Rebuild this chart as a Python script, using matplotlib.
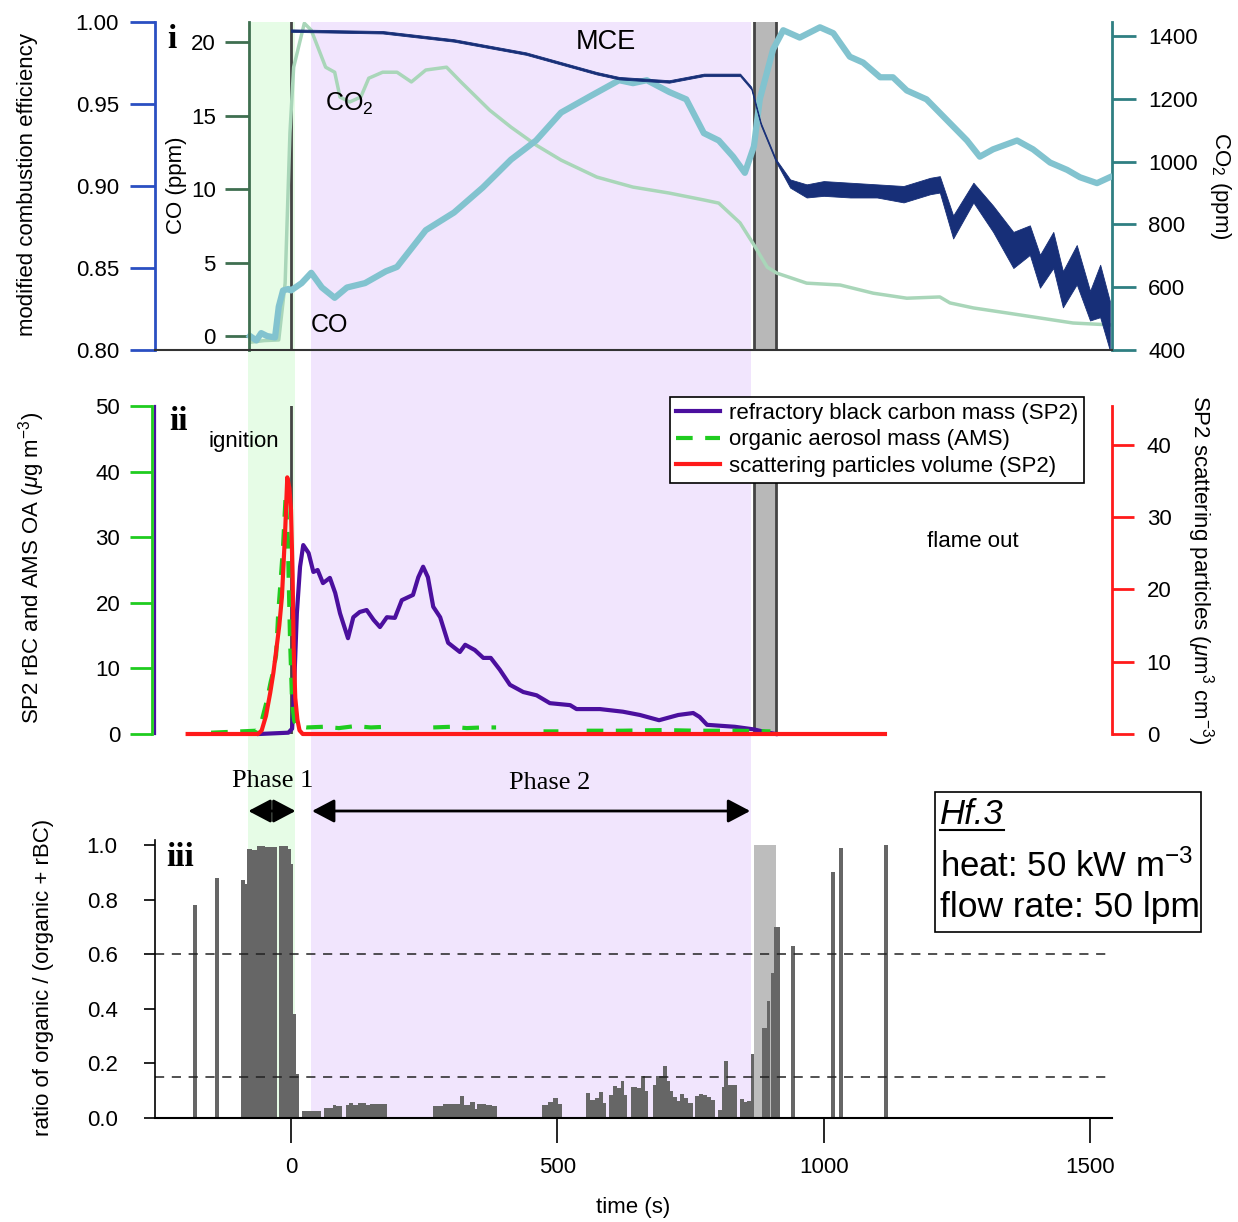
import matplotlib
matplotlib.use('Agg')
import matplotlib.pyplot as plt
import numpy as np
from matplotlib.lines import Line2D
from matplotlib.patches import Rectangle

plt.rcParams['font.family'] = ['Liberation Sans', 'DejaVu Sans']
plt.rcParams['mathtext.fontset'] = 'custom'
plt.rcParams['mathtext.rm'] = 'Liberation Sans'
plt.rcParams['mathtext.it'] = 'Liberation Sans:italic'

# ---- time windows (s) ----
phase1 = (-81, 7.5)
phase2 = (37.5, 864)
flame_out = (869, 910)

# ---- panel i : MCE, CO, CO2 ----
mce_t = [0, 172, 306, 441, 574, 616, 710, 775, 843, 864, 882, 910, 937, 968, 1000, 1050, 1100,
         1150, 1200, 1218, 1243, 1281, 1318, 1356, 1387, 1406, 1431, 1449, 1475, 1500, 1519, 1537]
mce_hi = [0.9955, 0.9945, 0.9895, 0.9815, 0.9695, 0.9665, 0.9645, 0.9685, 0.9685, 0.9605, 0.9385,
          0.9165, 0.904, 0.901, 0.903, 0.902, 0.901, 0.900, 0.905, 0.906, 0.882, 0.902, 0.888,
          0.872, 0.876, 0.858, 0.872, 0.848, 0.864, 0.836, 0.852, 0.830]
mce_lo = [0.994, 0.993, 0.988, 0.980, 0.968, 0.965, 0.963, 0.967, 0.967, 0.959, 0.937, 0.915, 0.899,
          0.893, 0.894, 0.893, 0.893, 0.890, 0.895, 0.896, 0.868, 0.890, 0.872, 0.850, 0.858, 0.838,
          0.850, 0.826, 0.840, 0.818, 0.820, 0.800]

co_t = [-77, -65, -56, -45, -30, -23, -15, -5, 0, 20, 38, 58, 82, 105, 139, 178, 199, 253, 306, 360,
        413, 460, 507, 561, 616, 642, 668, 710, 742, 775, 803, 830, 852, 869, 880, 905, 924, 955, 993,
        1018, 1049, 1074, 1106, 1130, 1156, 1193, 1231, 1269, 1293, 1318, 1363, 1393, 1425, 1457,
        1481, 1513, 1537]
co_ppm = [0.0, -0.3, 0.2, 0.0, -0.1, 2.0, 3.1, 3.2, 3.1, 3.6, 4.3, 3.3, 2.6, 3.3, 3.6, 4.4, 4.7, 7.2,
          8.4, 10.1, 12.0, 13.3, 15.2, 16.3, 17.4, 17.2, 17.4, 16.6, 16.1, 13.8, 13.3, 12.2, 11.1,
          12.9, 16.1, 19.5, 20.8, 20.3, 21.0, 20.6, 19.0, 18.6, 17.6, 17.6, 16.7, 16.1, 14.7, 13.3,
          12.2, 12.7, 13.3, 12.7, 11.8, 11.3, 10.8, 10.4, 10.8]

co2_t = [-75, -50, -23, -11, -2, 5, 25, 38, 65, 82, 92, 110, 131, 146, 172, 199, 226, 253, 292, 319,
         373, 413, 460, 507, 574, 642, 710, 775, 803, 843, 869, 894, 912, 968, 1031, 1093, 1156, 1218,
         1237, 1281, 1344, 1406, 1468, 1537]
co2_ppm = [425, 430, 432, 613, 1091, 1301, 1441, 1419, 1301, 1285, 1206, 1190, 1206, 1266, 1285,
           1285, 1254, 1292, 1301, 1254, 1164, 1110, 1053, 1005, 951, 919, 900, 878, 868, 805, 735,
           664, 645, 613, 607, 581, 565, 569, 550, 534, 518, 502, 486, 480]

# ---- panel ii : aerosol mass ----
rbc_t = [-60, -5, 2, 4, 11, 17, 23, 33, 42, 50, 60, 73, 83, 92, 107, 117, 129, 142, 155, 167, 180,
         195, 208, 229, 239, 248, 257, 267, 280, 295, 317, 327, 345, 361, 375, 392, 411, 436, 461,
         486, 524, 536, 580, 623, 655, 691, 727, 755, 767, 781, 833, 869, 890, 910]
rbc = [0.0, 0.2, 0.8, 3.2, 18.4, 25.5, 28.8, 27.6, 24.7, 25.0, 23.0, 23.8, 21.5, 18.4, 14.6, 17.8,
       18.6, 18.9, 17.4, 16.3, 17.8, 17.7, 20.4, 21.2, 23.9, 25.5, 23.9, 19.4, 17.8, 13.9, 12.5, 13.6,
       12.8, 11.6, 11.6, 9.8, 7.5, 6.4, 5.9, 4.7, 4.4, 3.8, 3.8, 3.4, 2.9, 2.1, 2.9, 3.2, 2.6, 1.4,
       1.1, 0.7, 0.3, 0.0]

oa_t = [-150, -65, -55, -45, -38, -34, -28, -24, -18, -15, -10, -6, -2, 2, 6, 12, 30, 60, 90, 120,
        150, 178, 220, 267, 300, 330, 360, 385, 430, 474, 502, 530, 555, 620, 700, 760, 837, 900]
oa = [0.2, 0.5, 2.0, 5.2, 8.0, 9.3, 12.0, 18.4, 25.0, 28.5, 36.4, 30.0, 15.0, 5.0, 2.0, 1.2, 1.0,
      1.1, 0.9, 1.2, 1.0, 1.1, np.nan, 1.0, 1.1, 0.9, 1.0, 1.0, np.nan, 0.4, 0.4, np.nan, 0.5, 0.5,
      0.6, 0.5, 0.5, 0.4]

scat_t = [-194, -62, -55, -47, -39, -33, -27, -22, -17, -11, -7, -3, 0, 3, 5, 8, 12, 16, 22, 1115]
scat = [0, 0, 0.5, 2.5, 5.7, 8.5, 12, 15, 19, 28, 35.5, 34, 31, 22, 12, 5, 2, 0.5, 0, 0]

# ---- panel iii : organic fraction bars (start, end, ratio) ----
bar_start = [-184, -143, -93.9, -86.3, -82, -73.8, -64.4, -48.8, -22.5, -5.0, -0.6, 4.4, 8.8,
             21.3, 62, 79.5, 84.5, 102.6, 109.5, 117, 126.4, 140.8, 148.3, 160.8,
             267.2, 286, 304.7, 317.2, 324.7, 336, 345.4, 349.8, 357.9, 366, 376.7,
             471.8, 483, 492.4, 500.5,
             553.1, 561.2, 570.6, 578.8, 586.3, 597.5, 603.8, 611.3, 618.8, 625.1,
             637.6, 648.8, 657.0, 664.5, 678.9, 685.1, 697.6, 706.4, 711.4, 717.7, 725.2, 730.2,
             737.7, 745.8, 758.3, 766.5, 774.0, 781.5, 787.7, 802.1, 808.4, 812.8, 820.9,
             842.8, 850.3, 855.3, 862.8, 883.3, 893.5, 902, 906.9, 939, 1014, 1029, 1113]
bar_end = [-177, -135, -86.3, -82, -73.8, -64.4, -48.8, -26.9, -5.0, -0.6, 4.4, 8.8, 15.0,
           56.3, 79.5, 84.5, 95, 109.5, 117, 126.4, 140.8, 148.3, 160.8, 179.6,
           286, 304.7, 317.2, 324.7, 336, 345.4, 349.8, 357.9, 366, 376.7, 386.1,
           483, 492.4, 500.5, 508.1,
           561.2, 570.6, 578.8, 586.3, 591.3, 603.8, 611.3, 618.8, 625.1, 630.1,
           648.8, 657.0, 664.5, 670.7, 685.1, 697.6, 706.4, 711.4, 717.7, 725.2, 730.2, 737.7,
           745.8, 755.2, 766.5, 774.0, 781.5, 787.7, 795.9, 808.4, 812.8, 820.9, 836.6,
           850.3, 855.3, 862.8, 869.1, 893.5, 899, 906.9, 917.2, 946, 1021, 1036, 1121]
bar_ratio = [0.78, 0.88, 0.873, 0.858, 0.984, 0.980, 0.995, 0.993, 0.995, 0.987, 0.932, 0.382, 0.160,
             0.024, 0.038, 0.046, 0.043, 0.049, 0.056, 0.049, 0.056, 0.046, 0.050, 0.052,
             0.043, 0.050, 0.052, 0.079, 0.049, 0.059, 0.034, 0.050, 0.052, 0.046, 0.043,
             0.049, 0.059, 0.073, 0.052,
             0.092, 0.065, 0.073, 0.095, 0.055, 0.085, 0.116, 0.110, 0.134, 0.085,
             0.112, 0.110, 0.155, 0.098, 0.122, 0.153, 0.190, 0.137, 0.098, 0.076, 0.061, 0.089,
             0.073, 0.055, 0.079, 0.089, 0.085, 0.077, 0.067, 0.030, 0.112, 0.208, 0.122,
             0.070, 0.057, 0.061, 0.234, 0.33, 0.43, 0.53, 0.70, 0.63, 0.90, 0.99, 1.00]
thresholds = [0.6, 0.15]

# ---- colours ----
BLUE = '#2a4fc2'
DKGREEN = '#3f6f50'
TEAL = '#2f7f82'
NAVY = '#172f78'
CYAN = '#82c3cf'
LTGREEN = '#a9d6b9'
PURPLE = '#4b0f9e'
GREEN = '#1fcc1f'
RED = '#ff1a1a'
EDGE = '#444444'

W, H = 1238, 1222
fig = plt.figure(figsize=(W / 100, H / 100), dpi=100)


def box(l, t, r, b):
    return [l / W, 1 - b / H, (r - l) / W, (b - t) / H]


def fx(px):
    return px / W


def fy(py):
    return 1 - py / H


XLIM = (-255.3, 1541.2)

# background bands running through all three panels
bg = fig.add_axes(box(155, 22, 1112, 1118))
bg.set_xlim(XLIM)
bg.set_ylim(0, 1)
bg.axis('off')
bg.set_zorder(-5)
bg.axvspan(*phase1, color='#e6fce6', lw=0)
bg.axvspan(*phase2, color='#f1e5fd', lw=0)

# ================= panel i =================
ax1 = fig.add_axes(box(155, 22, 1112, 350))
ax1.set_xlim(XLIM)
ax_co2 = ax1.twinx()
ax_co = ax1.twinx()
ax_co2.set_zorder(1)
ax_co.set_zorder(2)
ax1.set_zorder(3)
for a in (ax1, ax_co, ax_co2):
    a.patch.set_visible(False)
    for s in a.spines.values():
        s.set_visible(False)

ax1.spines['left'].set_visible(True)
ax1.spines['left'].set_color(BLUE)
ax1.spines['left'].set_linewidth(2)
ax1.spines['bottom'].set_visible(True)
ax1.spines['bottom'].set_color('#333333')
ax1.spines['bottom'].set_linewidth(1.5)
ax1.set_ylim(0.80, 1.00)
ax1.set_yticks([0.80, 0.85, 0.90, 0.95, 1.00])
ax1.set_yticklabels(['0.80', '0.85', '0.90', '0.95', '1.00'])
ax1.tick_params(axis='y', direction='out', length=18, width=2, color=BLUE, labelsize=16, pad=8)
ax1.tick_params(axis='x', bottom=False, labelbottom=False)

ax_co.spines['left'].set_visible(True)
ax_co.spines['left'].set_position(('axes', (249 - 155) / 957))
ax_co.spines['left'].set_color(DKGREEN)
ax_co.spines['left'].set_linewidth(2)
ax_co.yaxis.set_ticks_position('left')
ax_co.yaxis.set_label_position('left')
ax_co.set_ylim(-0.95, 21.36)
ax_co.set_yticks([0, 5, 10, 15, 20])
ax_co.tick_params(axis='y', direction='out', length=17, width=2, color=DKGREEN, labelsize=16, pad=7)

ax_co2.spines['right'].set_visible(True)
ax_co2.spines['right'].set_color(TEAL)
ax_co2.spines['right'].set_linewidth(2)
ax_co2.set_ylim(400, 1445)
ax_co2.set_yticks([400, 600, 800, 1000, 1200, 1400])
ax_co2.tick_params(axis='y', direction='out', length=17, width=2, color=TEAL, labelsize=16, pad=9)

ax_co2.axvspan(*flame_out, color='#b8b8b8', lw=0)
for xv in (0, flame_out[0], flame_out[1]):
    ax_co2.axvline(xv, color=EDGE, lw=2)
ax_co2.plot(co2_t, co2_ppm, color=LTGREEN, lw=2.5)
ax_co.plot(co_t, co_ppm, color=CYAN, lw=4.5)
ax1.fill_between(mce_t, mce_lo, mce_hi, color=NAVY, lw=0.6)

# ================= panel ii =================
ax2 = fig.add_axes(box(155, 406, 1112, 734))
ax2.set_xlim(XLIM)
ax2.set_ylim(0, 50)
ax2r = ax2.twinx()
ax2r.set_ylim(0, 45.37)
for a in (ax2, ax2r):
    a.patch.set_visible(False)
    for s in a.spines.values():
        s.set_visible(False)
ax2.spines['left'].set_visible(True)
ax2.spines['left'].set_color(GREEN)
ax2.spines['left'].set_linewidth(2)
ax2.spines['left'].set_position(('outward', 2))
ax2.add_line(Line2D([0, 0], [0, 1], transform=ax2.transAxes, color=PURPLE, lw=1.6, clip_on=False))
ax2.set_yticks([0, 10, 20, 30, 40, 50])
ax2.tick_params(axis='y', direction='out', length=16, width=2, color=GREEN, labelsize=16, pad=7)
ax2.tick_params(axis='x', bottom=False, labelbottom=False)

ax2r.spines['right'].set_visible(True)
ax2r.spines['right'].set_color(RED)
ax2r.spines['right'].set_linewidth(2)
ax2r.set_yticks([0, 10, 20, 30, 40])
ax2r.tick_params(axis='y', direction='out', length=16, width=2, color=RED, labelsize=16, pad=9)

ax2.axvspan(*flame_out, color='#b8b8b8', lw=0)
for xv in (0, flame_out[0], flame_out[1]):
    ax2.axvline(xv, color=EDGE, lw=2)
l_rbc, = ax2.plot(rbc_t, rbc, color=PURPLE, lw=3, clip_on=False)
l_oa, = ax2.plot(oa_t, oa, color=GREEN, lw=3, dashes=(4, 3), clip_on=False)
l_sc, = ax2r.plot(scat_t, scat, color=RED, lw=3, clip_on=False)
leg = ax2r.legend([l_rbc, l_oa, l_sc],
                  ['refractory black carbon mass (SP2)', 'organic aerosol mass (AMS)',
                   'scattering particles volume (SP2)'],
                  loc='upper left', bbox_to_anchor=((670 - 155) / 957, (734 - 397) / 328),
                  fontsize=16, frameon=True, fancybox=False, framealpha=1, edgecolor='black',
                  handlelength=2.0, handletextpad=0.4, labelspacing=0.26, borderpad=0.25,
                  borderaxespad=0)
leg.get_frame().set_linewidth(1.2)

# ================= panel iii =================
ax3 = fig.add_axes(box(155, 839.5, 1112, 1118))
ax3.patch.set_visible(False)
ax3.set_xlim(XLIM)
ax3.set_ylim(0, 1.02)
ax3.spines['top'].set_visible(False)
ax3.spines['right'].set_visible(False)
ax3.spines['left'].set_linewidth(1.2)
ax3.spines['bottom'].set_linewidth(1.5)
ax3.bar(flame_out[0], 1.0, width=flame_out[1] - flame_out[0], align='edge', color='#bdbdbd', lw=0)
widths = [e - s for s, e in zip(bar_start, bar_end)]
ax3.bar(bar_start, bar_ratio, width=widths, align='edge', color='#666666', lw=0)
ax3.hlines(thresholds, XLIM[0], 1530, colors='#222222', linestyles=(0, (6, 5)), lw=1.1)
ax3.set_xticks([0, 500, 1000, 1500])
ax3.set_yticks([0, 0.2, 0.4, 0.6, 0.8, 1.0])
ax3.set_yticklabels(['0.0', '0.2', '0.4', '0.6', '0.8', '1.0'])
ax3.tick_params(axis='x', direction='out', length=18, width=1.2, labelsize=16, pad=10)
ax3.tick_params(axis='y', direction='out', length=8, width=1.2, labelsize=16, pad=19)

# phase arrows
ya = (1118 - 811) / 278.5
head = dict(arrowstyle='-|>,head_length=0.38,head_width=0.2', mutation_scale=36, color='black',
            lw=2, shrinkA=0, shrinkB=0)
for tgt in (phase1[0] + 1, phase1[1] + 1):
    ax3.annotate('', xy=(tgt, ya), xytext=(-30, ya), xycoords=('data', 'axes fraction'),
                 textcoords=('data', 'axes fraction'), arrowprops=head, annotation_clip=False)
ax3.add_line(Line2D([-30, -30], [ya - 0.03, ya + 0.03], transform=ax3.get_xaxis_transform(),
                    color='black', lw=2, clip_on=False))
ax3.annotate('', xy=(phase2[1] - 2, ya), xytext=(phase2[0] + 2, ya),
             xycoords=('data', 'axes fraction'), textcoords=('data', 'axes fraction'),
             arrowprops=dict(arrowstyle='<|-|>,head_length=0.38,head_width=0.2', mutation_scale=36,
                             color='black', lw=2, shrinkA=0, shrinkB=0), annotation_clip=False)

# ================= texts =================
serif = ['Liberation Serif', 'DejaVu Serif']
fig.text(fx(172), fy(40), 'i', family=serif, weight='bold', fontsize=24, ha='center', va='center')
fig.text(fx(178), fy(421), 'ii', family=serif, weight='bold', fontsize=24, ha='center', va='center')
fig.text(fx(180), fy(858), 'iii', family=serif, weight='bold', fontsize=24, ha='center', va='center')
fig.text(fx(606), fy(42), 'MCE', fontsize=19.5, ha='center', va='center')
fig.text(fx(325), fy(104), r'CO$_2$', fontsize=18, ha='left', va='center')
fig.text(fx(311), fy(325), 'CO', fontsize=18, ha='left', va='center')
fig.text(fx(244), fy(442), 'ignition', fontsize=16, ha='center', va='center')
fig.text(fx(973), fy(542), 'flame out', fontsize=16, ha='center', va='center')
fig.text(fx(273), fy(781), 'Phase 1', family=serif, fontsize=19, ha='center', va='center')
fig.text(fx(550), fy(783), 'Phase 2', family=serif, fontsize=19, ha='center', va='center')

fig.text(fx(28), fy(185), 'modified combustion efficiency', fontsize=16, rotation=90,
         ha='center', va='center')
fig.text(fx(176), fy(185), 'CO (ppm)', fontsize=16, rotation=90, ha='center', va='center')
fig.text(fx(1220), fy(186), r'CO$_2$ (ppm)', fontsize=16, rotation=270, ha='center', va='center')
fig.text(fx(32), fy(568), r'SP2 rBC and AMS OA ($\mu$g m$^{-3}$)', fontsize=16, rotation=90,
         ha='center', va='center')
fig.text(fx(1200), fy(570), r'SP2 scattering particles ($\mu$m$^{3}$ cm$^{-3}$)', fontsize=16,
         rotation=270, ha='center', va='center')
fig.text(fx(44), fy(977), 'ratio of organic / (organic + rBC)', fontsize=16, rotation=90,
         ha='center', va='center')
fig.text(fx(633), fy(1207), 'time (s)', fontsize=16, ha='center', va='center')

# Hf.3 info box
fig.add_artist(Rectangle((fx(935), fy(932)), (1201 - 935) / W, (932 - 792) / H,
                         transform=fig.transFigure, fill=True, facecolor='white',
                         edgecolor='black', lw=1.2))
fig.text(fx(940), fy(814), 'Hf.3', fontsize=25, style='italic', ha='left', va='center')
fig.add_artist(Line2D([fx(940), fx(1004)], [fy(830), fy(830)], transform=fig.transFigure,
                      color='black', lw=1.5))
fig.text(fx(940), fy(867), r'heat: 50 kW m$^{-3}$', fontsize=25, ha='left', va='center')
fig.text(fx(940), fy(907), 'flow rate: 50 lpm', fontsize=25.5, ha='left', va='center')

fig.savefig('out.png', dpi=100, facecolor='white')
